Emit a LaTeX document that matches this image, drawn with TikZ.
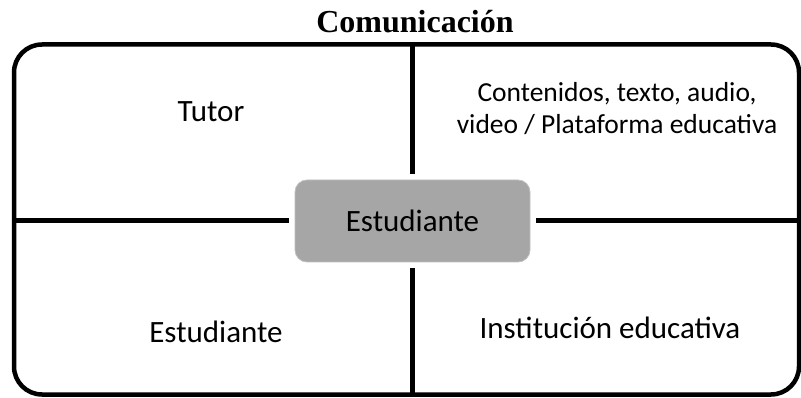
\documentclass[tikz,border=0pt]{standalone}
\usepackage{fontspec}
\setmainfont{Carlito}
\newfontfamily\titlefont{Liberation Serif}
\definecolor{boxgray}{HTML}{A6A6A6}
\definecolor{boxedge}{HTML}{BFBFBF}
\begin{document}
\begin{tikzpicture}[x=1pt,y=-1pt,
  lbl/.style={font=\fontsize{31}{32}\selectfont, align=center, inner sep=0pt, anchor=base},
  smalllbl/.style={lbl, font=\fontsize{27.5}{32}\selectfont},
  divider/.style={line width=5pt, shorten >=6pt},
  framebox/.style={draw, line width=4.5pt, rounded corners=28pt, minimum width=785pt, minimum height=350pt, inner sep=0pt},
  centerbox/.style={draw=boxedge, line width=0.8pt, fill=boxgray, rounded corners=12pt, minimum width=235pt, minimum height=82pt, inner sep=0pt, font=\fontsize{31}{33}\selectfont}]
\useasboundingbox (0,0) rectangle (801,398);
\node[font=\titlefont\bfseries\fontsize{32}{34}\selectfont, inner sep=0pt, anchor=base] (title) at (415,33) {Comunicación};
\node[framebox] (frame) at (406.5,219.5) {};
\node[centerbox] (est) at (412.5,221) {Estudiante};
\draw[divider] (est.north |- frame.north) -- (est.north);
\draw[divider] (est.south |- frame.south) -- (est.south);
\draw[divider] (frame.west |- est.west) -- (est.west);
\draw[divider] (frame.east |- est.east) -- (est.east);
\node[lbl] (tutor) at (211,122) {Tutor};
\node[smalllbl] (cont) at (617,134) {Contenidos, texto, audio,\\video / Plataforma educativa};
\node[lbl] (estu) at (216,342) {Estudiante};
\node[lbl] (inst) at (610,338) {Institución educativa};
\end{tikzpicture}
\end{document}
